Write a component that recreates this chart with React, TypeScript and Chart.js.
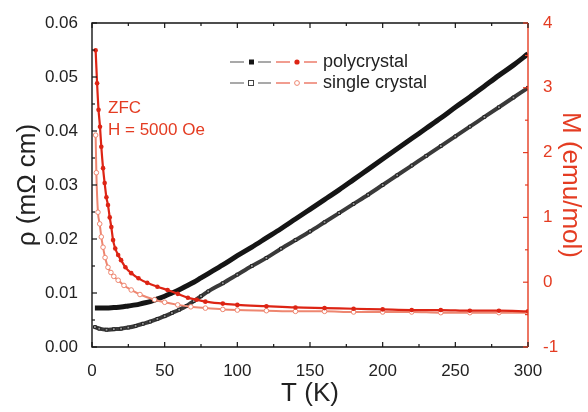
import React, { useEffect, useRef } from "react";
import { Chart, registerables } from "chart.js";

Chart.register(...registerables);

const FONT = "'Liberation Sans', Arial, Helvetica, sans-serif";
const RED = "#e43c22";
const RED_DOT = "#dd2414";
const SALMON = "#ee8670";
const BLACK = "#151515";
const TEXT = "#222222";

// Resistivity (left axis), temperature in K
const tempRho = [2, 5, 10, 15, 20, 25, 30, 35, 40, 45, 50, 55, 60, 65, 70, 75, 80, 90, 100, 110, 120, 130, 140, 150, 160, 170, 180, 190, 200, 210, 220, 230, 240, 250, 260, 270, 280, 290, 300];
const rhoPoly = [0.0072, 0.0072, 0.0072, 0.0073, 0.0074, 0.0076, 0.0078, 0.0081, 0.0084, 0.0089, 0.0094, 0.0100, 0.0106, 0.0113, 0.0120, 0.0128, 0.0136, 0.0152, 0.0169, 0.0185, 0.0202, 0.0219, 0.0237, 0.0255, 0.0273, 0.0291, 0.0310, 0.0329, 0.0348, 0.0367, 0.0386, 0.0405, 0.0424, 0.0444, 0.0463, 0.0483, 0.0503, 0.0522, 0.0543];
const rhoSingle = [0.0037, 0.0034, 0.0032, 0.0033, 0.0034, 0.0036, 0.0039, 0.0043, 0.0047, 0.0052, 0.0057, 0.0063, 0.0069, 0.0076, 0.0085, 0.0094, 0.0103, 0.0118, 0.0134, 0.0150, 0.0165, 0.0182, 0.0198, 0.0214, 0.0231, 0.0248, 0.0265, 0.0282, 0.0300, 0.0318, 0.0336, 0.0354, 0.0372, 0.0390, 0.0408, 0.0426, 0.0444, 0.0462, 0.0480];

// Magnetization (right axis)
const tempMPoly = [2.5, 3.5, 4.5, 5.5, 6.4, 7.6, 8.7, 9.9, 11, 12.2, 13.3, 14.5, 16, 18, 20, 23, 27, 32, 38, 45, 52, 59, 66, 72, 78, 90, 100, 120, 140, 160, 180, 200, 220, 240, 260, 280, 300];
const mPoly = [3.58, 3.07, 2.66, 2.40, 2.09, 1.76, 1.53, 1.31, 1.19, 1.00, 0.85, 0.65, 0.52, 0.42, 0.34, 0.23, 0.14, 0.06, -0.01, -0.07, -0.12, -0.18, -0.24, -0.27, -0.30, -0.33, -0.35, -0.37, -0.39, -0.40, -0.41, -0.42, -0.43, -0.43, -0.44, -0.44, -0.45];
const tempMSingle = [2.5, 3, 4.1, 5.3, 6.4, 7.6, 9, 11, 13, 15, 18, 22, 27, 33, 43, 50, 59, 68, 78, 90, 100, 120, 140, 160, 180, 200, 220, 240, 260, 280, 300];
const mSingle = [2.27, 1.69, 1.08, 0.90, 0.70, 0.54, 0.38, 0.23, 0.15, 0.09, 0.03, -0.05, -0.12, -0.19, -0.27, -0.31, -0.35, -0.38, -0.40, -0.42, -0.43, -0.44, -0.45, -0.45, -0.46, -0.46, -0.46, -0.47, -0.47, -0.47, -0.47];

const legendLabels = ["polycrystal", "single crystal"];
const annotationLines = ["ZFC", "H = 5000 Oe"];

const pts = (xs: number[], ys: number[]) => xs.map((x, i) => ({ x, y: ys[i] }));

const framePlugin = {
  id: "frameTicks",
  afterDraw(chart: any) {
    const { ctx, chartArea: a, scales } = chart;
    const xs = scales.x, ys = scales.y, y2 = scales.y2;
    ctx.save();
    ctx.lineWidth = 1.4;
    ctx.lineCap = "butt";
    // frame
    ctx.strokeStyle = BLACK;
    ctx.beginPath();
    ctx.moveTo(a.right, a.top);
    ctx.lineTo(a.left, a.top);
    ctx.lineTo(a.left, a.bottom);
    ctx.lineTo(a.right, a.bottom);
    ctx.stroke();
    ctx.strokeStyle = RED;
    ctx.beginPath();
    ctx.moveTo(a.right, a.top);
    ctx.lineTo(a.right, a.bottom);
    ctx.stroke();
    // x ticks (bottom & top), inward
    ctx.strokeStyle = BLACK;
    ctx.lineWidth = 1.2;
    for (let i = 0; i <= 12; i++) {
      const v = i * 25;
      const px = xs.getPixelForValue(v);
      const len = i % 2 === 0 ? 5 : 3;
      ctx.beginPath();
      ctx.moveTo(px, a.bottom);
      ctx.lineTo(px, a.bottom - len);
      ctx.moveTo(px, a.top);
      ctx.lineTo(px, a.top + len);
      ctx.stroke();
    }
    for (let i = 0; i <= 12; i++) {
      const v = i * 0.005;
      const py = ys.getPixelForValue(v);
      const len = i % 2 === 0 ? 5 : 3;
      ctx.beginPath();
      ctx.moveTo(a.left, py);
      ctx.lineTo(a.left + len, py);
      ctx.stroke();
    }
    ctx.strokeStyle = RED;
    for (let i = 0; i <= 10; i++) {
      const v = -1 + i * 0.5;
      const py = y2.getPixelForValue(v);
      const len = i % 2 === 0 ? 5 : 3;
      ctx.beginPath();
      ctx.moveTo(a.right, py);
      ctx.lineTo(a.right - len, py);
      ctx.stroke();
    }

    // legend
    const lx = a.left + 138;
    const rows = [a.top + 39, a.top + 60];
    rows.forEach((y, r) => {
      ctx.lineWidth = 1.2;
      ctx.strokeStyle = "#555";
      ctx.beginPath();
      ctx.moveTo(lx, y); ctx.lineTo(lx + 14, y);
      ctx.moveTo(lx + 28, y); ctx.lineTo(lx + 41, y);
      ctx.stroke();
      ctx.strokeStyle = RED;
      ctx.beginPath();
      ctx.moveTo(lx + 46, y); ctx.lineTo(lx + 60, y);
      ctx.moveTo(lx + 74, y); ctx.lineTo(lx + 87, y);
      ctx.stroke();
      if (r === 0) {
        ctx.fillStyle = BLACK;
        ctx.fillRect(lx + 19, y - 2.5, 5, 5);
        ctx.fillStyle = RED_DOT;
        ctx.beginPath(); ctx.arc(lx + 67, y, 2.6, 0, Math.PI * 2); ctx.fill();
      } else {
        ctx.lineWidth = 1;
        ctx.strokeStyle = "#444";
        ctx.strokeRect(lx + 18.5, y - 2.5, 5, 5);
        ctx.strokeStyle = SALMON;
        ctx.beginPath(); ctx.arc(lx + 67, y, 2.4, 0, Math.PI * 2); ctx.stroke();
      }
      ctx.fillStyle = TEXT;
      ctx.font = `18px ${FONT}`;
      ctx.textBaseline = "middle";
      ctx.textAlign = "left";
      ctx.fillText(legendLabels[r], lx + 93, y);
    });

    // annotation
    ctx.fillStyle = RED;
    ctx.font = `17px ${FONT}`;
    ctx.textBaseline = "middle";
    ctx.textAlign = "left";
    ctx.fillText(annotationLines[0], a.left + 16, a.top + 85);
    ctx.fillText(annotationLines[1], a.left + 16, a.top + 107);
    ctx.restore();
  },
};

export default function App() {
  const ref = useRef<HTMLCanvasElement>(null);
  useEffect(() => {
    if (!ref.current) return;
    Chart.defaults.font.family = FONT;
    const chart = new Chart(ref.current, {
      type: "line",
      data: {
        datasets: [
          {
            label: "M polycrystal",
            data: pts(tempMPoly, mPoly),
            yAxisID: "y2",
            borderColor: RED_DOT,
            backgroundColor: RED_DOT,
            borderWidth: 2.2,
            pointRadius: 2.3,
            pointBorderWidth: 0,
            pointStyle: "circle",
            cubicInterpolationMode: "monotone",
          },
          {
            label: "M single crystal",
            data: pts(tempMSingle, mSingle),
            yAxisID: "y2",
            borderColor: SALMON,
            backgroundColor: "#ffffff",
            borderWidth: 2,
            pointRadius: 2.3,
            pointBorderWidth: 1,
            pointBorderColor: SALMON,
            pointStyle: "circle",
            cubicInterpolationMode: "monotone",
          },
          {
            label: "rho polycrystal",
            data: pts(tempRho, rhoPoly),
            yAxisID: "y",
            borderColor: BLACK,
            backgroundColor: BLACK,
            borderWidth: 5,
            pointRadius: 0,
            cubicInterpolationMode: "monotone",
          },
          {
            label: "rho single crystal",
            data: pts(tempRho, rhoSingle),
            yAxisID: "y",
            borderColor: "#3a3a3a",
            backgroundColor: "#9a9a9a",
            borderWidth: 4,
            pointRadius: 2,
            pointStyle: "rect",
            pointBorderWidth: 1,
            pointBorderColor: "#222",
            cubicInterpolationMode: "monotone",
          },
        ],
      },
      options: {
        animation: false,
        responsive: false,
        layout: { padding: { top: 23, left: 0, right: 0, bottom: 0 } },
        plugins: { legend: { display: false }, tooltip: { enabled: false } },
        scales: {
          x: {
            type: "linear",
            min: 0,
            max: 300,
            grid: { display: false },
            border: { display: false },
            ticks: { stepSize: 50, color: TEXT, font: { size: 17 }, padding: 6, maxRotation: 0 },
            title: { display: true, text: "T (K)", color: TEXT, font: { size: 26 }, padding: { top: 0, bottom: 3 } },
            afterFit: (s: any) => { s.height = 65; },
          },
          y: {
            type: "linear",
            position: "left",
            min: 0,
            max: 0.06,
            grid: { display: false },
            border: { display: false },
            ticks: { stepSize: 0.01, color: TEXT, font: { size: 17 }, padding: 6, callback: (v: any) => Number(v).toFixed(2) },
            title: { display: true, text: "ρ (mΩ cm)", color: TEXT, font: { size: 26 }, padding: { top: 12, bottom: 0 } },
            afterFit: (s: any) => { s.width = 92; },
          },
          y2: {
            type: "linear",
            position: "right",
            min: -1,
            max: 4,
            grid: { display: false },
            border: { display: false },
            ticks: { stepSize: 1, color: RED, font: { size: 17 }, padding: 7 },
            title: { display: true, text: "M (emu/mol)", color: RED, font: { size: 26 }, padding: { top: 2, bottom: 0 } },
            afterFit: (s: any) => { s.width = 60; },
          },
        },
      },
      plugins: [framePlugin],
    });
    return () => chart.destroy();
  }, []);
  return (
    <div style={{ position: "absolute", left: 0, top: 0, width: 588, height: 412, background: "#fff" }}>
      <canvas ref={ref} width={588} height={412} style={{ display: "block" }} />
    </div>
  );
}
